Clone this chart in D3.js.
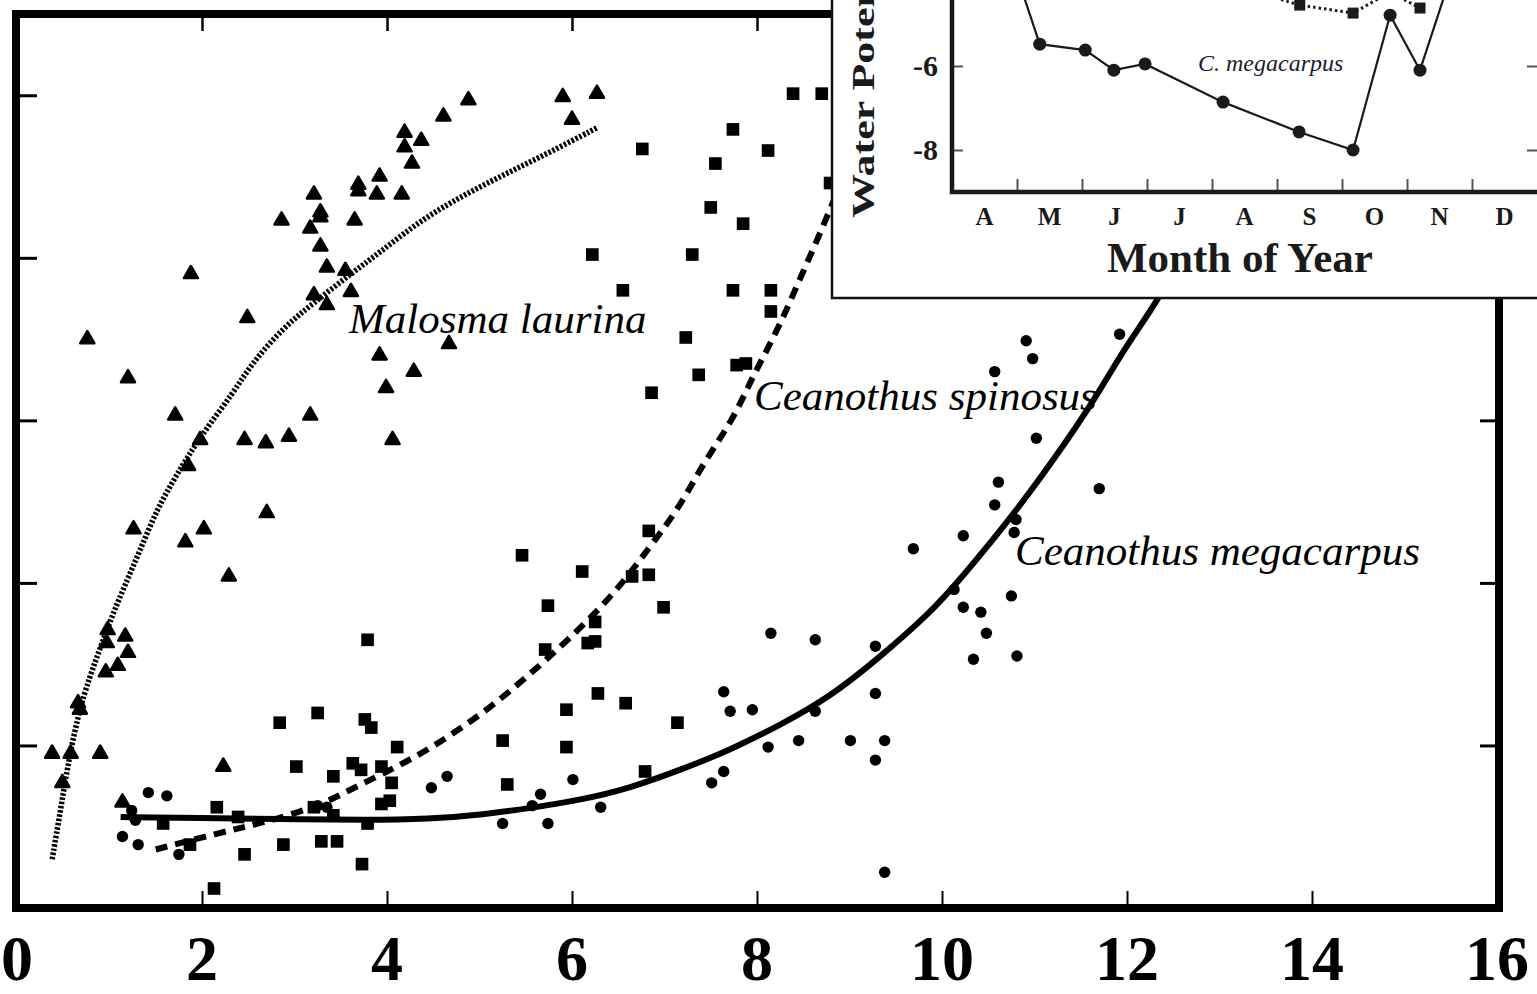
<!DOCTYPE html>
<html>
<head>
<meta charset="utf-8">
<script src="https://cdn.jsdelivr.net/npm/d3@7"></script>
<style>
  body { margin: 0; background: #fff; }
  svg { display: block; }
  text { font-family: "Liberation Serif", "Times New Roman", serif; }
</style>
</head>
<body>
<div id="chart"></div>
<script>
// values, [x, y]
const malosmaPts = [[4.88,4.97],[4.61,4.87],[4.19,4.77],[4.37,4.72],[4.19,4.68],[4.27,4.58],[3.92,4.50],[3.69,4.45],[3.69,4.41],[3.89,4.39],[4.16,4.39],[3.21,4.39],[3.28,4.28],[3.28,4.25],[2.86,4.23],[3.65,4.23],[3.17,4.18],[3.28,4.07],[3.35,3.94],[3.55,3.92],[1.88,3.90],[3.21,3.77],[3.61,3.79],[3.35,3.71],[2.49,3.63],[0.76,3.50],[4.67,3.47],[3.92,3.40],[1.20,3.26],[4.29,3.30],[3.99,3.20],[1.71,3.03],[3.17,3.03],[4.06,2.88],[2.46,2.88],[2.69,2.86],[2.94,2.90],[1.98,2.88],[1.85,2.72],[5.90,4.99],[6.27,5.01],[6.00,4.85],[2.70,2.43],[1.26,2.33],[2.02,2.33],[1.82,2.25],[2.29,2.04],[0.98,1.71],[1.17,1.67],[0.97,1.63],[1.20,1.57],[1.09,1.49],[0.96,1.45],[0.66,1.26],[0.68,1.22],[0.38,0.95],[0.58,0.95],[0.90,0.95],[2.23,0.87],[0.49,0.77],[1.14,0.65]]

const spinosusPts = [[3.79,1.65],[2.84,1.14],[3.25,1.20],[3.76,1.16],[3.83,1.11],[4.11,0.99],[3.02,0.87],[3.63,0.89],[3.72,0.85],[3.94,0.87],[3.42,0.81],[4.05,0.77],[3.94,0.64],[4.03,0.66],[3.21,0.62],[2.16,0.62],[2.39,0.56],[3.42,0.57],[1.58,0.52],[3.79,0.52],[2.88,0.39],[3.29,0.41],[3.46,0.41],[1.87,0.39],[2.46,0.33],[3.73,0.27],[2.13,0.12],
  [8.39,5.01],[8.70,5.01],[7.74,4.79],[6.76,4.67],[8.12,4.66],[7.55,4.58],[7.50,4.31],[7.85,4.21],[6.22,4.02],[7.30,4.02],[6.55,3.80],[7.74,3.80],[8.15,3.80],[8.15,3.67],[7.23,3.51],[7.78,3.34],[7.88,3.35],[7.37,3.28],[6.86,3.17],[8.79,4.46],
  [5.46,2.17],[6.11,2.07],[6.83,2.32],[6.83,2.05],[6.65,2.04],[5.74,1.86],[6.99,1.85],[6.25,1.76],[5.71,1.59],[6.17,1.63],[6.25,1.64],[6.28,1.32],[5.94,1.22],[6.58,1.26],[7.14,1.14],[5.25,1.03],[5.94,0.99],[5.30,0.76],[6.79,0.84]]

const megacarpusPts = [[1.42,0.71],[1.62,0.69],[1.24,0.60],[1.28,0.54],[1.14,0.44],[1.31,0.39],[1.75,0.33],[4.48,0.74],[4.65,0.81],[3.25,0.63],[3.35,0.62],
  [10.23,2.29],[9.69,2.21],[10.13,1.96],[10.23,1.85],[10.42,1.82],[10.34,1.53],[10.48,1.69],[10.75,1.92],[10.81,1.55],[10.78,2.31],[10.80,2.39],[10.57,2.48],[10.61,2.62],[11.70,2.58],[11.02,2.89],[10.57,3.30],[10.91,3.49],[10.98,3.38],[11.92,3.53],
  [8.15,1.69],[8.63,1.65],[9.28,1.61],[7.64,1.33],[7.71,1.21],[7.95,1.22],[8.63,1.21],[9.28,1.32],[8.45,1.03],[9.01,1.03],[9.38,1.03],[8.12,0.99],[9.28,0.91],[7.51,0.77],[7.64,0.84],[6.01,0.79],[5.66,0.70],[5.57,0.63],[6.31,0.62],[5.25,0.52],[5.74,0.52],[9.38,0.22]]

// fitted curves
const malosmaFit = [[0.38,0.30],[0.47,0.60],[0.55,0.88],[0.66,1.19],[0.79,1.43],[0.90,1.60],[1.03,1.80],[1.17,1.99],[1.33,2.20],[1.51,2.45],[1.71,2.65],[1.98,2.90],[2.34,3.17],[2.55,3.36],[2.88,3.57],[3.20,3.72],[3.63,3.91],[3.96,4.05],[4.32,4.21],[4.68,4.34],[5.22,4.50],[5.73,4.64],[6.27,4.80]]
const spinosusFit = [[1.50,0.36],[2.17,0.46],[2.70,0.53],[3.28,0.63],[3.71,0.76],[4.19,0.89],[4.66,1.05],[5.11,1.23],[5.51,1.42],[5.96,1.65],[6.44,1.92],[6.84,2.22],[7.17,2.47],[7.42,2.74],[7.74,3.00],[7.96,3.28],[8.22,3.55],[8.44,3.84],[8.66,4.12],[8.90,4.45],[9.06,4.67]]
const megacarpusFit = [[1.12,0.56],[1.98,0.553],[2.84,0.547],[3.78,0.54],[4.46,0.547],[5.01,0.572],[5.55,0.615],[6.09,0.664],[6.63,0.738],[7.17,0.849],[7.71,0.972],[8.25,1.125],[8.79,1.298],[9.33,1.544],[9.87,1.814],[10.19,2.017],[10.79,2.429],[11.38,2.897],[11.71,3.186],[11.98,3.45],[12.34,3.739],[12.63,4.06]]

const xTicks = [0,2,4,6,8,10,12,14,16]
const yTicks = [1,2,3,4,5]

// inset: months since 1 April vs water potential
const months = ["A","M","J","J","A","S","O","N","D"]
const insetMegaMonth = [0.6,1.35,2.05,2.49,2.97,4.17,5.34,6.17,6.74,7.2,7.7]
const insetMegaPsi = [-2.0,-5.48,-5.62,-6.10,-5.95,-6.86,-7.57,-8.0,-4.79,-6.10,-3.74]
const insetSpinMonth = [4.17,5.35,6.17,6.74,7.2]
const insetSpinPsi = [-4.01,-4.55,-4.74,-4.24,-4.62]
const insetYTicks = [-6,-8]


const svg = d3.select("#chart").append("svg")
    .attr("width", 1537)
    .attr("height", 994)

let x = d3.scaleLinear().domain([0, 16]).range([17, 1497]),
    y = d3.scaleLinear().domain([0, 5.5]).range([908, 14]);

// ticks (all pointing inwards, no labels)
const tickStyle = (g, w) => {
    g.select(".domain").remove()
    g.selectAll("line").attr("stroke", "#000").attr("stroke-width", w)
}
svg.append("g").attr("transform", `translate(${x(0)},0)`)
    .call(d3.axisRight(y).tickValues(yTicks).tickSize(20).tickFormat(""))
    .call(g => tickStyle(g, 3))
svg.append("g").attr("transform", `translate(${x(16)},0)`)
    .call(d3.axisLeft(y).tickValues(yTicks).tickSize(17).tickFormat(""))
    .call(g => tickStyle(g, 3))
svg.append("g").attr("transform", `translate(0,${y(0)})`)
    .call(d3.axisTop(x).tickValues(xTicks.slice(1, -1)).tickSize(17).tickFormat(""))
    .call(g => tickStyle(g, 2))
svg.append("g").attr("transform", `translate(0,${y(5.5)})`)
    .call(d3.axisBottom(x).tickValues(xTicks.slice(1, -1)).tickSize(17).tickFormat(""))
    .call(g => tickStyle(g, 2.5))

// frame
svg.append("rect")
    .attr("x", x(0) - 1).attr("y", y(5.5))
    .attr("width", x(16) - x(0) + 3).attr("height", y(0) - y(5.5))
    .attr("fill", "none").attr("stroke", "#000").attr("stroke-width", 8)

// x tick labels
svg.selectAll(".xlab").data(xTicks).enter().append("text")
    .attr("class", "xlab")
    .attr("x", d => x(d)).attr("y", 980)
    .attr("text-anchor", "middle")
    .attr("font-size", 64).attr("font-weight", "bold")
    .text(d => d)

// points
svg.selectAll(".tri").data(malosmaPts).enter().append("path")
    .attr("class", "tri")
    .attr("d", d3.symbol(d3.symbolTriangle, 85))
    .attr("transform", d => `translate(${x(d[0])},${y(d[1])})`)
    .attr("fill", "#000").attr("stroke", "#000").attr("stroke-width", 2.5)
    .attr("stroke-linejoin", "round")

svg.selectAll(".sq").data(spinosusPts).enter().append("path")
    .attr("class", "sq")
    .attr("d", d3.symbol(d3.symbolSquare, 160))
    .attr("transform", d => `translate(${x(d[0])},${y(d[1])})`)
    .attr("fill", "#000")

svg.selectAll(".dot").data(megacarpusPts).enter().append("circle")
    .attr("class", "dot")
    .attr("cx", d => x(d[0])).attr("cy", d => y(d[1]))
    .attr("r", 5.7).attr("fill", "#000")

// species labels
const labels = [
    {text: "Malosma laurina", x: 349, y: 333},
    {text: "Ceanothus spinosus", x: 754, y: 410},
    {text: "Ceanothus megacarpus", x: 1015, y: 565}
]
svg.selectAll(".lab").data(labels).enter().append("text")
    .attr("class", "lab")
    .attr("x", d => d.x).attr("y", d => d.y)
    .attr("font-size", 43).attr("font-style", "italic")
    .text(d => d.text)

// fitted curves
let line = d3.line().x(d => x(d[0])).y(d => y(d[1])).curve(d3.curveBasis)

svg.append("path").datum(malosmaFit).attr("d", line)
    .attr("fill", "none").attr("stroke", "#000")
    .attr("stroke-width", 5.5).attr("stroke-dasharray", "2.5,1.8")
svg.append("path").datum(spinosusFit).attr("d", line)
    .attr("fill", "none").attr("stroke", "#000")
    .attr("stroke-width", 6).attr("stroke-dasharray", "12,8")
svg.append("path").datum(megacarpusFit).attr("d", line)
    .attr("fill", "none").attr("stroke", "#000")
    .attr("stroke-width", 6)


// ---------- inset ----------
const inset = svg.append("g")
inset.append("rect")
    .attr("x", 832).attr("y", -10).attr("width", 720).attr("height", 308)
    .attr("fill", "#fff").attr("stroke", "#111").attr("stroke-width", 2.5)

let ix = d3.scaleLinear().domain([0, 9]).range([952, 1537]),
    iy = d3.scaleLinear().domain([-6, -8]).range([66, 150]);

inset.append("g").attr("transform", `translate(${ix(0)},0)`)
    .call(d3.axisRight(iy).tickValues(insetYTicks).tickSize(11).tickFormat(""))
    .call(g => tickStyle(g, 2)).selectAll("line").attr("stroke", "#555")
inset.append("g").attr("transform", `translate(${ix(9)},0)`)
    .call(d3.axisLeft(iy).tickValues(insetYTicks).tickSize(10).tickFormat(""))
    .call(g => tickStyle(g, 2)).selectAll("line").attr("stroke", "#555")
inset.append("g").attr("transform", `translate(0,${iy(-9)})`)
    .call(d3.axisTop(ix).tickValues(d3.range(1, 9)).tickSize(13).tickFormat(""))
    .call(g => tickStyle(g, 2)).selectAll("line").attr("stroke", "#555")

inset.append("path")
    .attr("d", `M${ix(0)},-10V${iy(-9)}H1545`)
    .attr("fill", "none").attr("stroke", "#1a1a1a").attr("stroke-width", 4.5)

inset.selectAll(".iyl").data(insetYTicks).enter().append("text")
    .attr("class", "iyl")
    .attr("x", 938).attr("y", d => iy(d)).attr("dy", "0.34em")
    .attr("text-anchor", "end")
    .attr("font-size", 30).attr("font-weight", "bold").attr("fill", "#1a1a1a")
    .text(d => d)

inset.selectAll(".mon").data(months).enter().append("text")
    .attr("class", "mon")
    .attr("x", (d, i) => ix(i + 0.5)).attr("y", 225)
    .attr("text-anchor", "middle")
    .attr("font-size", 25).attr("font-weight", "bold").attr("fill", "#1a1a1a")
    .text(d => d)

inset.append("text")
    .attr("x", 1240).attr("y", 272)
    .attr("text-anchor", "middle")
    .attr("font-size", 43).attr("font-weight", "bold").attr("fill", "#1a1a1a")
    .text("Month of Year")

// the axis title runs off the top of the picture, as in the original
inset.append("text")
    .attr("transform", "translate(874,218) rotate(-90) scale(1,0.72)")
    .attr("font-size", 44).attr("font-weight", "bold").attr("fill", "#1a1a1a")
    .text("Water Potential (MPa)")

inset.append("text")
    .attr("x", 1198).attr("y", 71)
    .attr("font-size", 24).attr("font-style", "italic").attr("fill", "#1c1c30")
    .text("C. megacarpus")

const megaInset = insetMegaMonth.map((m, i) => [m, insetMegaPsi[i]])
const spinInset = insetSpinMonth.map((m, i) => [m, insetSpinPsi[i]])
let iline = d3.line().x(d => ix(d[0])).y(d => iy(d[1]))

inset.append("path").datum(spinInset).attr("d", iline)
    .attr("fill", "none").attr("stroke", "#1a1a1a")
    .attr("stroke-width", 3).attr("stroke-dasharray", "2.5,3")
inset.append("path").datum(megaInset).attr("d", iline)
    .attr("fill", "none").attr("stroke", "#1a1a1a").attr("stroke-width", 2.2)

inset.selectAll(".isq").data(spinInset).enter().append("path")
    .attr("class", "isq")
    .attr("d", d3.symbol(d3.symbolSquare, 121))
    .attr("transform", d => `translate(${ix(d[0])},${iy(d[1])})`)
    .attr("fill", "#1a1a1a")
inset.selectAll(".idot").data(megaInset).enter().append("circle")
    .attr("class", "idot")
    .attr("cx", d => ix(d[0])).attr("cy", d => iy(d[1]))
    .attr("r", 6.5).attr("fill", "#1a1a1a")
</script>
</body>
</html>
